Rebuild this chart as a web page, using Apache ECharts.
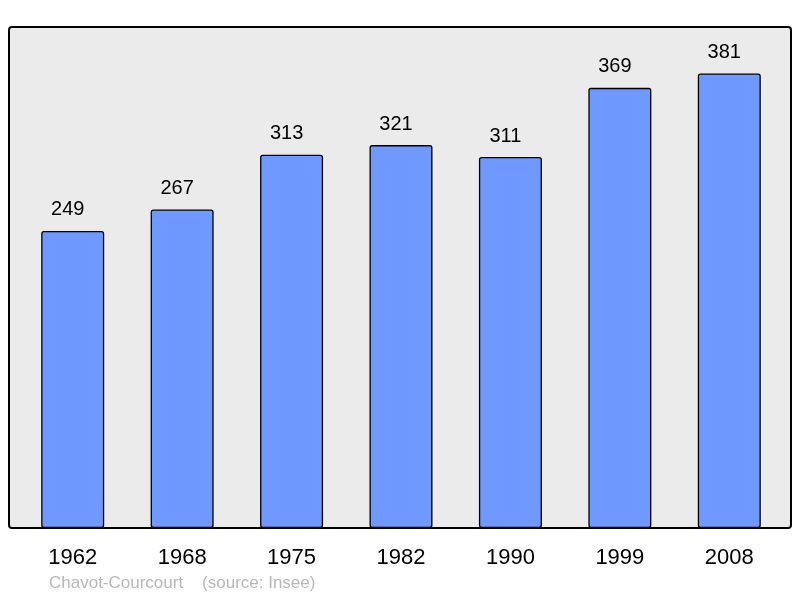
<!DOCTYPE html>
<html>
<head>
<meta charset="utf-8">
<script src="https://cdn.jsdelivr.net/npm/echarts@6/dist/echarts.min.js"></script>
<style>html,body{margin:0;padding:0;background:#fff;}#c{width:800px;height:598px;}</style>
</head>
<body>
<div id="c"></div>
<script>
const years = ['1962', '1968', '1975', '1982', '1990', '1999', '2008'];
const population = [249, 267, 313, 321, 311, 369, 381];
const footer = 'Chavot-Courcourt    (source: Insee)';

const chart = echarts.init(document.getElementById('c'), null, {renderer: 'canvas'});
chart.setOption({
  animation: false,
  backgroundColor: '#ffffff',
  textStyle: {fontFamily: 'Liberation Sans, Arial, sans-serif'},
  graphic: [
    {type: 'rect', z: -10, silent: true,
     shape: {x: 9, y: 27, width: 782, height: 501, r: 3},
     style: {fill: '#ebebeb', stroke: '#000', lineWidth: 2}},
    {type: 'text', left: 49, top: 575, silent: true,
     style: {text: footer, fill: '#b8b8b8', font: '17px "Liberation Sans", Arial, sans-serif'}}
  ],
  grid: {left: 18, width: 766, top: 27, bottom: 70},
  xAxis: {
    type: 'category', data: years,
    axisLine: {show: false}, axisTick: {show: false},
    axisLabel: {color: '#000', fontSize: 22, margin: 19, fontFamily: 'Liberation Sans, Arial, sans-serif'}
  },
  yAxis: {type: 'value', min: 0, max: 420, show: false, splitLine: {show: false}},
  series: [{
    type: 'bar', data: population, barWidth: 63,
    itemStyle: {color: '#7099ff', borderColor: '#000', borderWidth: 1.3, borderRadius: 2},
    label: {show: true, position: 'top', distance: 11, offset: [-5, 0], color: '#000', fontSize: 20,
            fontFamily: 'Liberation Sans, Arial, sans-serif'}
  }]
});
</script>
</body>
</html>
